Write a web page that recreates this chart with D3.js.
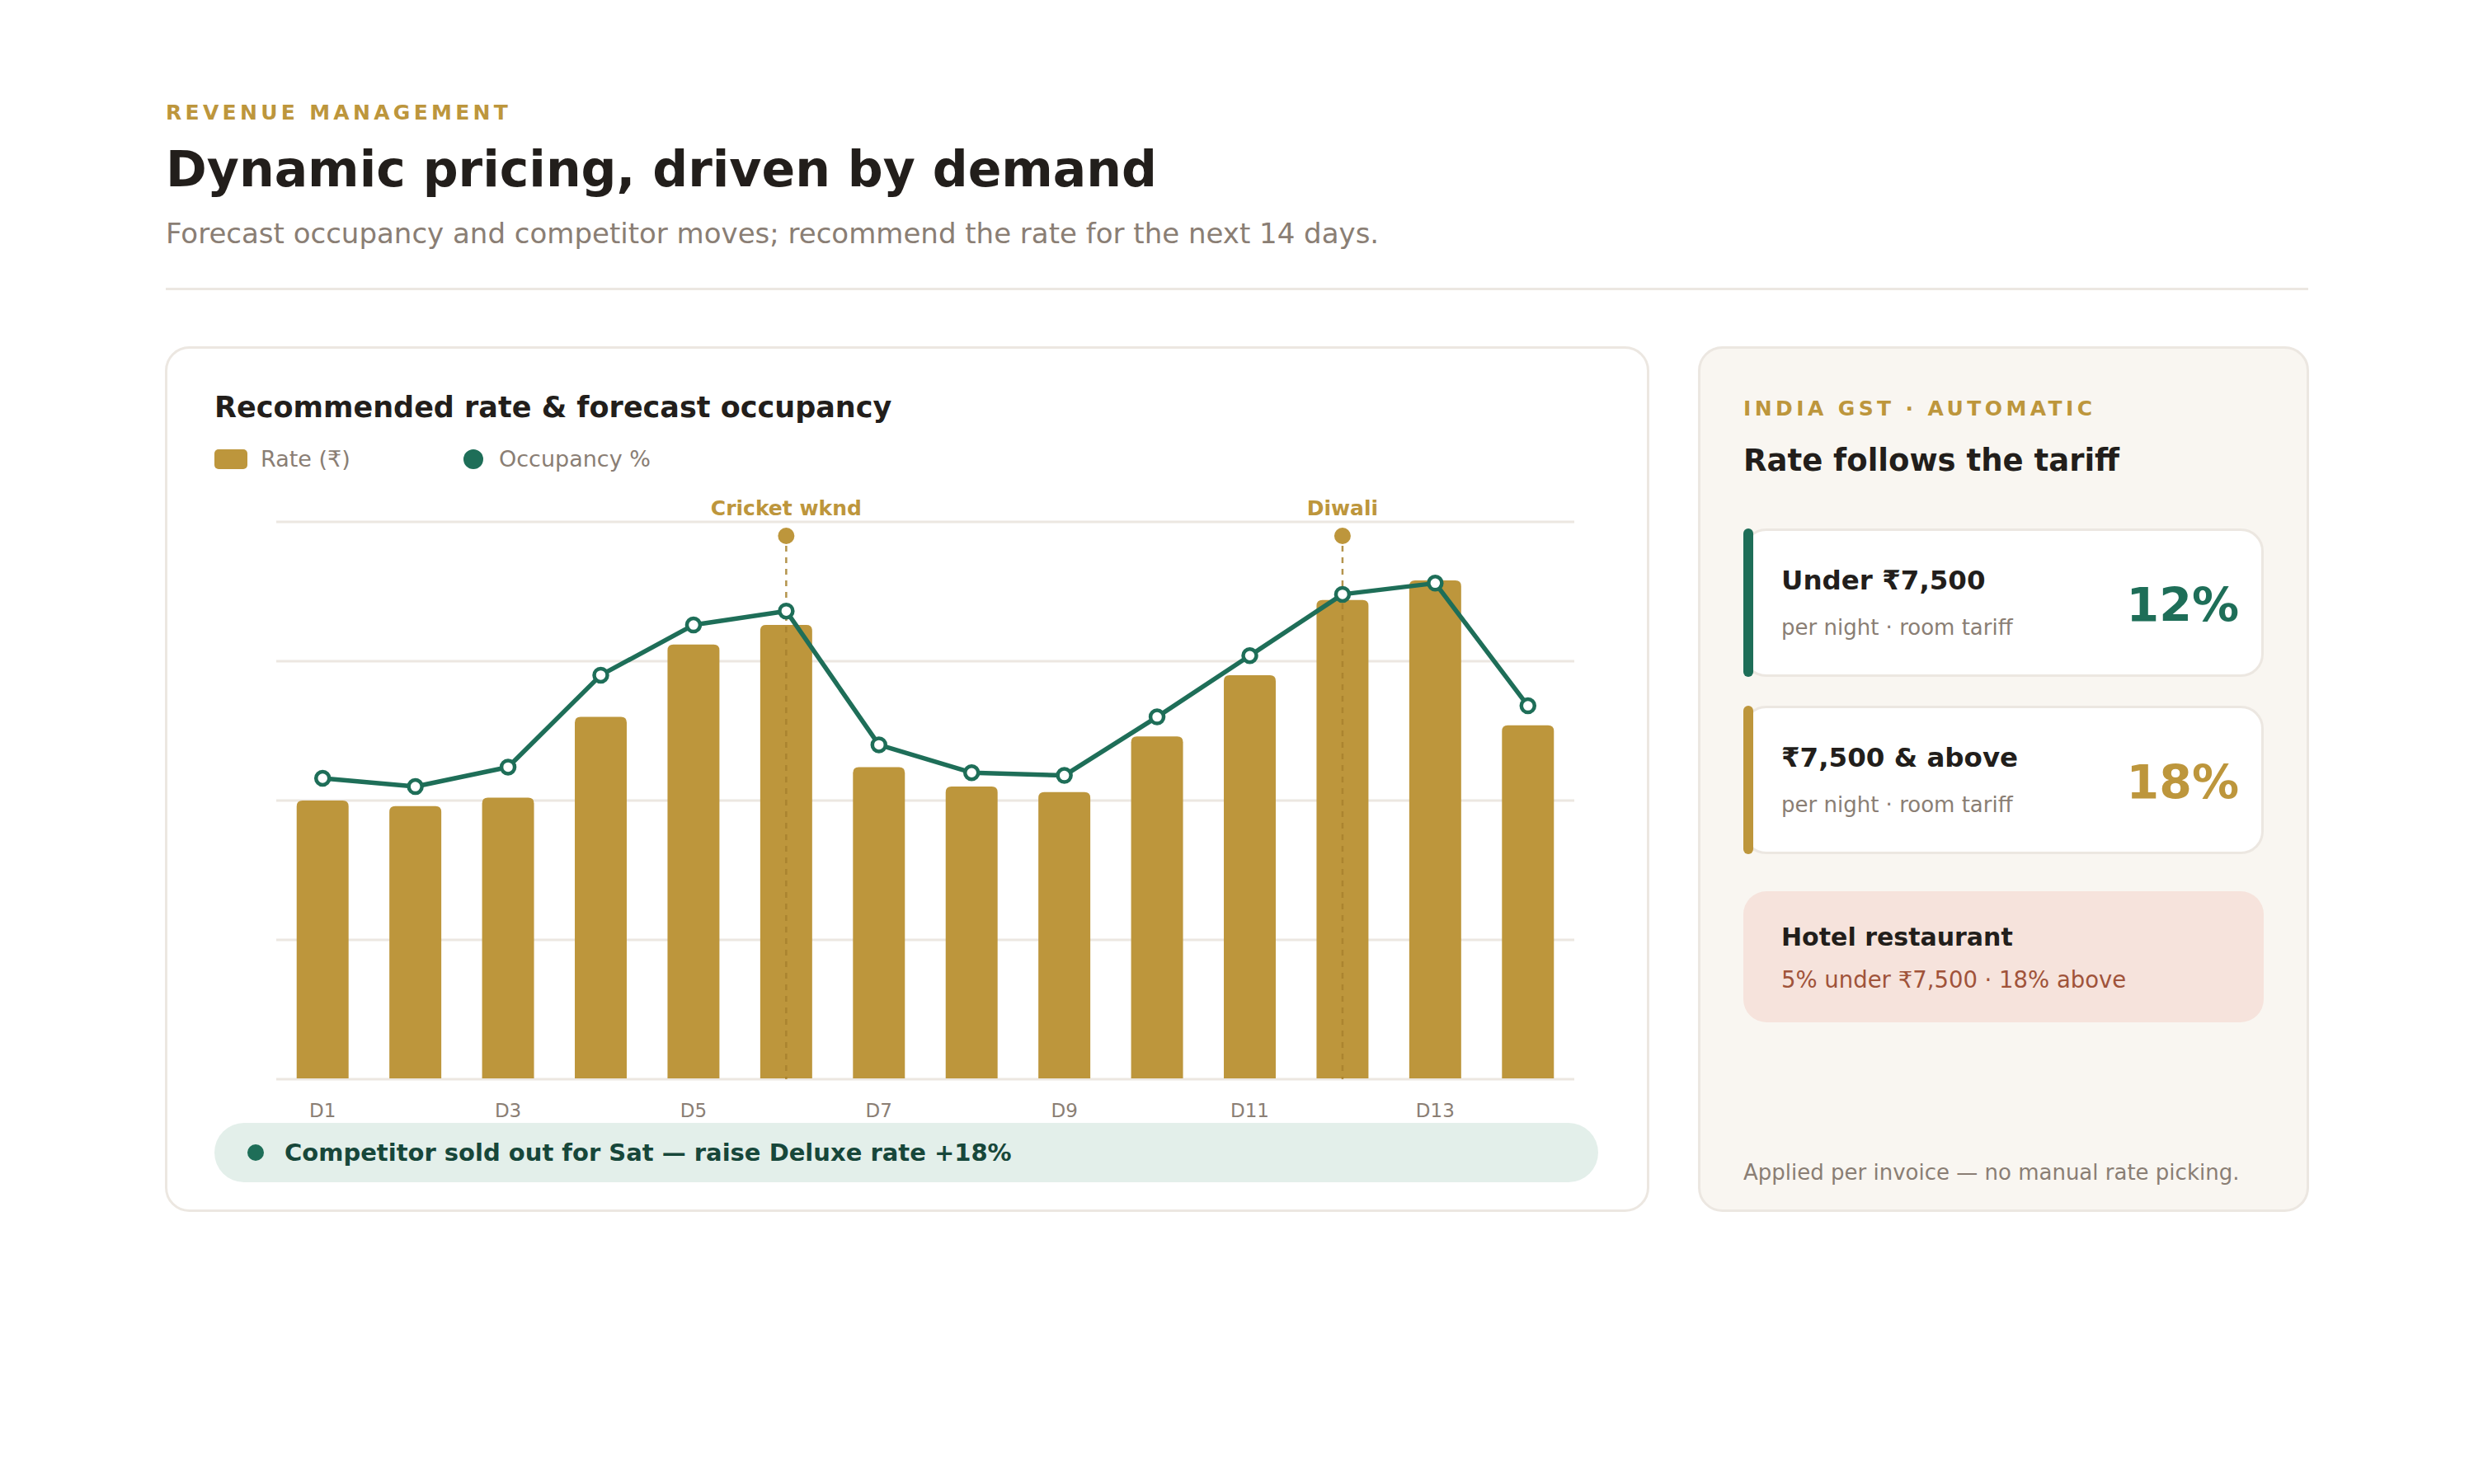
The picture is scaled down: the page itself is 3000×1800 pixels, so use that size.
<!DOCTYPE html>
<html lang="en">
<head>
<meta charset="UTF-8">
<title>Dynamic pricing, driven by demand</title>
<script src="https://d3js.org/d3.v7.min.js"></script>
<style>
  html, body { margin: 0; padding: 0; background: #ffffff; }
  svg { display: block; font-family: "DejaVu Sans", Verdana, sans-serif; }
</style>
</head>
<body>
<div id="chart"></div>
<script>
// ---- data ----
const days = ["D1","D2","D3","D4","D5","D6","D7","D8","D9","D10","D11","D12","D13","D14"];
const rate = [5000, 4900, 5050, 6500, 7800, 8150, 5600, 5250, 5150, 6150, 7250, 8600, 8950, 6350];
const occupancy = [54, 52.5, 56, 72.5, 81.5, 84, 60, 55, 54.5, 65, 76, 87, 89, 67];
const tickDays = ["D1","D3","D5","D7","D9","D11","D13"];
const gridValues = [0, 2500, 5000, 7500, 10000];
const eventDays = ["D6","D12"];
const eventLabels = ["Cricket wknd","Diwali"];

const tierLabels = ["Under ₹7,500", "₹7,500 & above"];
const tierNotes = ["per night · room tariff", "per night · room tariff"];
const tierRates = ["12%", "18%"];

// ---- colours ----
const gold = "#bd963c", green = "#1e6e58", ink = "#221e1b", muted = "#8a7e74", line = "#ece7e1";

const W = 3000, H = 1800;
const svg = d3.select("#chart").append("svg")
    .attr("width", W).attr("height", H);

// header
svg.append("text").attr("x", 201).attr("y", 145)
    .attr("fill", gold).attr("font-size", 25).attr("font-weight", "bold")
    .attr("letter-spacing", 4.3).text("REVENUE MANAGEMENT");
svg.append("text").attr("x", 201).attr("y", 226)
    .attr("fill", ink).attr("font-size", 60).attr("font-weight", "bold")
    .text("Dynamic pricing, driven by demand");
svg.append("text").attr("x", 201).attr("y", 295)
    .attr("fill", muted).attr("font-size", 34)
    .text("Forecast occupancy and competitor moves; recommend the rate for the next 14 days.");
svg.append("rect").attr("x", 201).attr("y", 349).attr("width", 2598).attr("height", 3).attr("fill", line);

// cards
svg.append("rect").attr("x", 201.5).attr("y", 421.5).attr("width", 1797).attr("height", 1047)
    .attr("rx", 28).attr("fill", "#fff").attr("stroke", line).attr("stroke-width", 3);
svg.append("rect").attr("x", 2060.5).attr("y", 421.5).attr("width", 738).attr("height", 1047)
    .attr("rx", 28).attr("fill", "#f9f6f1").attr("stroke", line).attr("stroke-width", 3);

// chart card title + legend
svg.append("text").attr("x", 260).attr("y", 506)
    .attr("fill", ink).attr("font-size", 35).attr("font-weight", "bold")
    .text("Recommended rate & forecast occupancy");
svg.append("rect").attr("x", 260).attr("y", 545).attr("width", 40).attr("height", 24).attr("rx", 5).attr("fill", gold);
svg.append("text").attr("x", 316).attr("y", 566).attr("fill", muted).attr("font-size", 27).text("Rate (₹)");
svg.append("circle").attr("cx", 574).attr("cy", 557).attr("r", 12).attr("fill", green);
svg.append("text").attr("x", 605).attr("y", 566).attr("fill", muted).attr("font-size", 27).text("Occupancy %");

// scales
const plot = {left: 335, right: 1909, top: 633, bottom: 1309};
const x = d3.scaleBand().domain(days).range([plot.left, plot.right]).paddingInner(0.44).paddingOuter(0.22);
const yRate = d3.scaleLinear().domain([0, 10000]).range([plot.bottom, plot.top]);
const yOcc = d3.scaleLinear().domain([0, 100]).range([plot.bottom, plot.top]);
const cx = d => x(d) + x.bandwidth() / 2;

// gridlines
svg.append("g").selectAll("line").data(gridValues).join("line")
    .attr("x1", plot.left).attr("x2", plot.right)
    .attr("y1", d => yRate(d)).attr("y2", d => yRate(d))
    .attr("stroke", line).attr("stroke-width", 3);

// bars (rounded top corners only)
const bw = x.bandwidth(), r = 7;
svg.append("g").selectAll("path").data(days).join("path")
    .attr("fill", gold)
    .attr("d", (d, i) => {
        const x0 = x(d), y0 = yRate(rate[i]), y1 = plot.bottom - 1;
        return `M${x0},${y1} V${y0 + r} Q${x0},${y0} ${x0 + r},${y0} H${x0 + bw - r} Q${x0 + bw},${y0} ${x0 + bw},${y0 + r} V${y1} Z`;
    });

// event markers
const ev = svg.append("g");
ev.selectAll("line").data(eventDays).join("line")
    .attr("x1", cx).attr("x2", cx).attr("y1", 662).attr("y2", plot.bottom)
    .attr("stroke", "#a8822e").attr("stroke-width", 2.5).attr("stroke-dasharray", "7 7").attr("opacity", 0.85);
ev.selectAll("circle").data(eventDays).join("circle")
    .attr("cx", cx).attr("cy", 650).attr("r", 10).attr("fill", gold);
ev.selectAll("text").data(eventDays).join("text")
    .attr("x", cx).attr("y", 625).attr("text-anchor", "middle")
    .attr("fill", gold).attr("font-size", 25).attr("font-weight", "bold")
    .text((d, i) => eventLabels[i]);

// occupancy line
const occLine = d3.line().x((d, i) => cx(days[i])).y(d => yOcc(d));
svg.append("path").datum(occupancy)
    .attr("d", occLine).attr("fill", "none")
    .attr("stroke", green).attr("stroke-width", 5.5).attr("stroke-linejoin", "round");
svg.append("g").selectAll("circle").data(occupancy).join("circle")
    .attr("cx", (d, i) => cx(days[i])).attr("cy", d => yOcc(d)).attr("r", 8)
    .attr("fill", "#fff").attr("stroke", green).attr("stroke-width", 4.5);

// x axis
const xAxis = svg.append("g").attr("transform", `translate(0,${plot.bottom})`)
    .call(d3.axisBottom(x).tickValues(tickDays).tickSize(0).tickPadding(30));
xAxis.select(".domain").remove();
xAxis.selectAll("text").attr("fill", muted).attr("font-size", 23)
    .attr("font-family", "DejaVu Sans, sans-serif");

// callout pill
svg.append("rect").attr("x", 260).attr("y", 1362).attr("width", 1678).attr("height", 72)
    .attr("rx", 36).attr("fill", "#e3efea");
svg.append("circle").attr("cx", 310).attr("cy", 1398).attr("r", 10).attr("fill", green);
svg.append("text").attr("x", 345).attr("y", 1408)
    .attr("fill", "#17473a").attr("font-size", 29).attr("font-weight", "bold")
    .text("Competitor sold out for Sat — raise Deluxe rate +18%");

// ---- right card: GST tiers ----
svg.append("text").attr("x", 2114).attr("y", 504)
    .attr("fill", gold).attr("font-size", 25).attr("font-weight", "bold")
    .attr("letter-spacing", 4.4).text("INDIA GST · AUTOMATIC");
svg.append("text").attr("x", 2114).attr("y", 571)
    .attr("fill", ink).attr("font-size", 37).attr("font-weight", "bold")
    .text("Rate follows the tariff");

const tierColors = [green, gold];
const tierTop = [641, 856];
const tiers = svg.append("g").selectAll("g").data(tierLabels).join("g")
    .attr("transform", (d, i) => `translate(2114,${tierTop[i]})`);
tiers.append("rect").attr("x", 1.5).attr("y", 1.5).attr("width", 628).attr("height", 177)
    .attr("rx", 26).attr("fill", "#fff").attr("stroke", line).attr("stroke-width", 3);
tiers.append("rect").attr("x", 0).attr("y", 0).attr("width", 12).attr("height", 180)
    .attr("rx", 6).attr("fill", (d, i) => tierColors[i]);
tiers.append("text").attr("x", 46).attr("y", 74)
    .attr("fill", ink).attr("font-size", 32.5).attr("font-weight", "bold").text(d => d);
tiers.append("text").attr("x", 46).attr("y", 129)
    .attr("fill", muted).attr("font-size", 26).text((d, i) => tierNotes[i]);
tiers.append("text").attr("x", 601).attr("y", 113).attr("text-anchor", "end")
    .attr("fill", (d, i) => tierColors[i]).attr("font-size", 57).attr("font-weight", "bold")
    .text((d, i) => tierRates[i]);

// restaurant note
svg.append("rect").attr("x", 2114).attr("y", 1081).attr("width", 631).attr("height", 159)
    .attr("rx", 28).attr("fill", "#f6e3dc");
svg.append("text").attr("x", 2160).attr("y", 1147)
    .attr("fill", ink).attr("font-size", 30).attr("font-weight", "bold").text("Hotel restaurant");
svg.append("text").attr("x", 2160).attr("y", 1198)
    .attr("fill", "#a0533a").attr("font-size", 27.5).text("5% under ₹7,500 · 18% above");

svg.append("text").attr("x", 2114).attr("y", 1431)
    .attr("fill", muted).attr("font-size", 26).text("Applied per invoice — no manual rate picking.");
</script>
</body>
</html>
